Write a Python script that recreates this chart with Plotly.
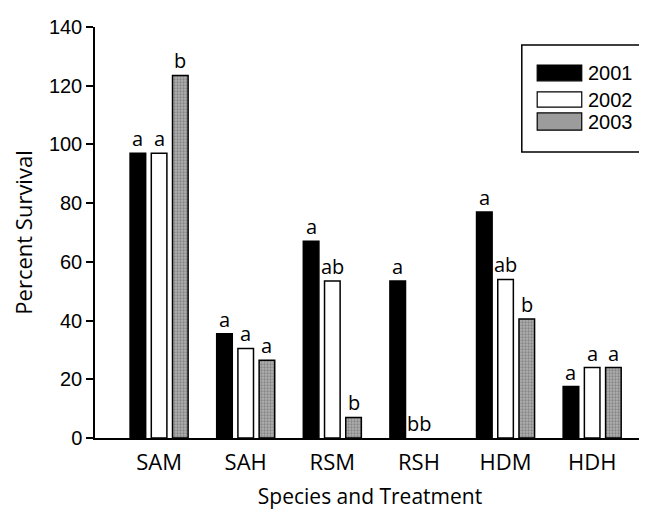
import plotly.graph_objects as go

categories = ["SAM", "SAH", "RSM", "RSH", "HDM", "HDH"]
years = ["2001", "2002", "2003"]
v2001 = [97, 35.5, 67, 53.5, 77, 17.5]
v2002 = [97, 30.5, 53.5, 0, 54, 24]
v2003 = [123.5, 26.5, 7, 0, 40.5, 24]
letters2001 = ["a", "a", "a", "a", "a", "a"]
letters2002 = ["a", "a", "ab", "bb", "ab", "a"]
letters2003 = ["b", "a", "b", "", "b", "a"]
y_ticks = [0, 20, 40, 60, 80, 100, 120, 140]

series = [v2001, v2002, v2003]
letters = [letters2001, letters2002, letters2003]

HUM = "Open Sans"
GRO = "Liberation Sans"

bar_w = 0.18
centers = [-0.245, 0.0, 0.245]
fills = ["black", "white", "#a4a4a4"]
patterns = [None, None,
            dict(shape=".", fgcolor="#5a5a5a", bgcolor="#b0b0b0", size=3, solidity=0.45)]

fig = go.Figure()
for k, (name, vals) in enumerate(zip(years, series)):
    marker = dict(color=fills[k],
                  line=dict(color="black", width=[1.5 if v > 0 else 0 for v in vals]))
    if patterns[k]:
        marker["pattern"] = patterns[k]
    fig.add_trace(go.Bar(
        x=list(range(len(categories))), y=vals, name=name,
        width=bar_w, offset=centers[k] - bar_w / 2,
        marker=marker, showlegend=False,
    ))
    for i, (v, lab) in enumerate(zip(vals, letters[k])):
        if lab:
            fig.add_annotation(x=i + centers[k], y=v, text=lab, showarrow=False,
                               xref="x", yref="y", yanchor="bottom", yshift=-1,
                               font=dict(family=HUM, size=20, color="black"))

# custom legend (large swatches as in the reference)
fig.add_shape(type="rect", xref="paper", yref="paper", x0=0.776, x1=1.0, y0=0.696, y1=0.956,
              line=dict(color="black", width=1.5), fillcolor="white", layer="above")
sw_y = [(0.869, 0.9075), (0.805, 0.842), (0.749, 0.791)]
sw_fill = ["black", "white", "#9c9c9c"]
for k, name in enumerate(years):
    fig.add_shape(type="rect", xref="paper", yref="paper", x0=0.804, x1=0.885,
                  y0=sw_y[k][0], y1=sw_y[k][1],
                  line=dict(color="black", width=1.2),
                  fillcolor=sw_fill[k], layer="above")
    fig.add_annotation(xref="paper", yref="paper", x=0.893, y=(sw_y[k][0] + sw_y[k][1]) / 2,
                       text=name, showarrow=False, xanchor="left", yanchor="middle",
                       font=dict(family=GRO, size=20, color="black"))

# page body has an 8px margin, so the figure is shrunk/shifted to keep absolute positions
fig.update_layout(
    width=639, height=505,
    margin=dict(l=87, r=2, t=19, b=75),
    plot_bgcolor="white", paper_bgcolor="white",
    barmode="overlay",
    xaxis=dict(
        range=[-0.74, 5.61], tickmode="array", tickvals=list(range(len(categories))),
        ticktext=categories, showline=True, linecolor="black", linewidth=1.5,
        ticks="outside", ticklen=4, tickcolor="rgba(0,0,0,0)",
        showgrid=False, zeroline=False,
        tickfont=dict(family=HUM, size=22, color="black"),
        title=dict(text="Species and Treatment", font=dict(family=HUM, size=21, color="black"), standoff=14),
    ),
    yaxis=dict(
        range=[0, 140], tickvals=y_ticks, showline=True, linecolor="black", linewidth=1.5,
        ticks="outside", ticklen=7, tickwidth=1.5, tickcolor="black",
        showgrid=False, zeroline=False,
        tickfont=dict(family=GRO, size=20, color="black"),
        title=dict(text="Percent Survival", font=dict(family=HUM, size=22, color="black"), standoff=14),
    ),
)

fig.write_html("out.html")
